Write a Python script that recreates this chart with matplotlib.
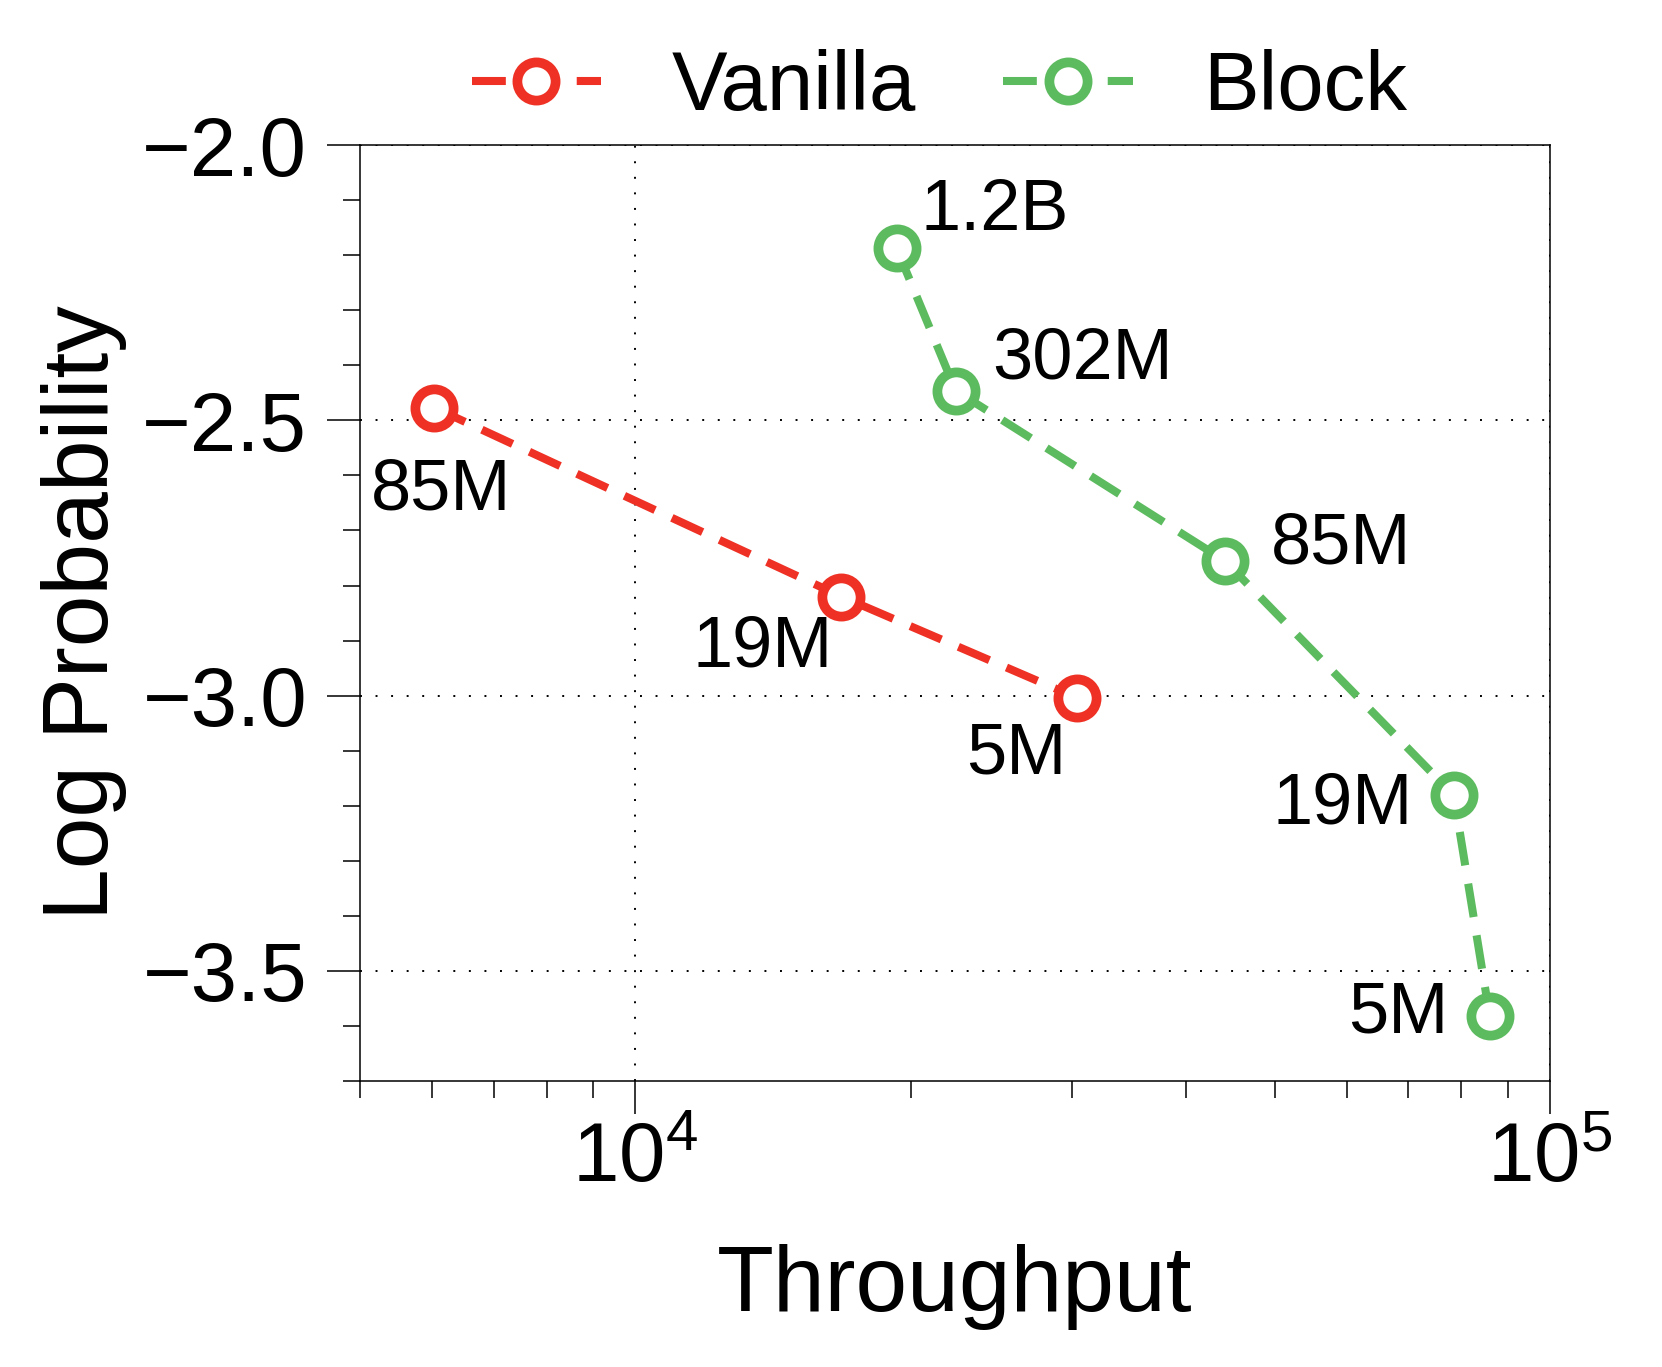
import matplotlib
matplotlib.use("Agg")
import matplotlib.pyplot as plt
from matplotlib.ticker import LogLocator, MultipleLocator, NullFormatter

plt.rcParams['font.family'] = ['Liberation Sans', 'DejaVu Sans']
plt.rcParams['mathtext.fontset'] = 'custom'
plt.rcParams['mathtext.rm'] = 'Liberation Sans'

# data
vanilla_labels = ["85M", "19M", "5M"]
vanilla_thru = [6030, 16800, 30400]
vanilla_logp = [-2.477, -2.820, -3.004]

block_labels = ["1.2B", "302M", "85M", "19M", "5M"]
block_thru = [19300, 22400, 44100, 78500, 85900]
block_logp = [-2.187, -2.446, -2.755, -3.181, -3.581]

# label offsets (points)
vanilla_off = [(5, -60), (-57, -37), (-44, -41)]
block_off = [(71, 26), (91, 22), (84, 11), (-80, -7), (-66, 1)]

red = '#EE3124'
green = '#5DBB5F'

fig = plt.figure(figsize=(16.62, 13.67), dpi=100)
ax = fig.add_axes([0.2166, 0.2092, 0.7160, 0.6847])

style = dict(linestyle=(0, (4.2, 2.3)), linewidth=5.8, marker='o', markersize=27.5,
             markeredgewidth=7, markerfacecolor='white')
ax.plot(vanilla_thru, vanilla_logp, color=red, label='Vanilla', **style)
ax.plot(block_thru, block_logp, color=green, label='Block', **style)

for x, y, t, o in zip(vanilla_thru, vanilla_logp, vanilla_labels, vanilla_off):
    ax.annotate(t, (x, y), xytext=o, textcoords='offset points',
                ha='center', va='center', fontsize=52)
for x, y, t, o in zip(block_thru, block_logp, block_labels, block_off):
    ax.annotate(t, (x, y), xytext=o, textcoords='offset points',
                ha='center', va='center', fontsize=52)

ax.set_xscale('log')
ax.set_xlim(5000, 100000)
ax.set_ylim(-3.7, -2.0)
ax.xaxis.set_major_locator(LogLocator(base=10, numticks=10))
ax.xaxis.set_minor_locator(LogLocator(base=10, subs=range(2, 10), numticks=20))
ax.xaxis.set_minor_formatter(NullFormatter())
ax.yaxis.set_major_locator(MultipleLocator(0.5))
ax.yaxis.set_minor_locator(MultipleLocator(0.1))

ax.grid(True, which='major', color='black', linestyle=(0, (1, 7)), linewidth=1.4)
for s in ax.spines.values():
    s.set_linewidth(1.1)
ax.tick_params(which='major', length=24, width=1.1, labelsize=60)
ax.tick_params(which='minor', length=12, width=1.1)
ax.tick_params(axis='y', which='major', pad=14)
ax.tick_params(axis='x', which='major', pad=5)

ax.set_xlabel('Throughput', fontsize=67, labelpad=32)
ax.set_ylabel('Log Probability', fontsize=67, labelpad=11)

ax.legend(loc='lower center', bbox_to_anchor=(0.487, 0.975), ncol=2, frameon=False,
          fontsize=60, handlelength=1.55, handletextpad=0.85, columnspacing=1.05,
          borderaxespad=0.1)

fig.savefig('out.png', dpi=100)
